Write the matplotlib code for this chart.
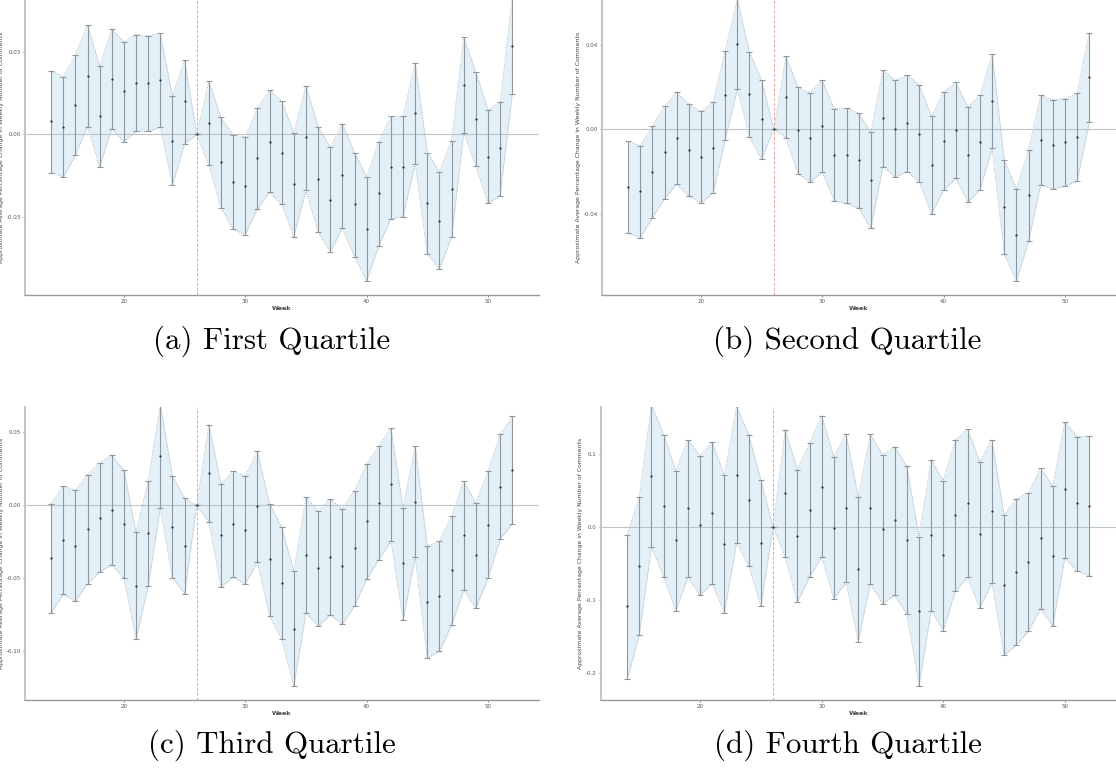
import matplotlib
matplotlib.use("Agg")
import matplotlib.pyplot as plt
import numpy as np

# weeks shown on every panel
weeks = list(range(14, 53))
treat_week = 26

# First quartile
q1_mean = [0.0048, 0.0028, 0.0107, 0.0212, 0.0066, 0.0203, 0.0157, 0.0187, 0.0187, 0.0198,
           -0.0023, 0.0121, 0.0, 0.0040, -0.0102, -0.0173, -0.0187, -0.0087, -0.0026, -0.0066,
           -0.0182, -0.0010, -0.0163, -0.0237, -0.0149, -0.0255, -0.0343, -0.0215, -0.0120, -0.0118,
           0.0077, -0.0249, -0.0314, -0.0198, 0.0181, 0.0056, -0.0081, -0.0051, 0.0322]
q1_lower = [-0.0139, -0.0155, -0.0076, 0.0029, -0.0117, 0.0020, -0.0026, 0.0011, 0.0011, 0.0027,
            -0.0185, -0.0033, 0.0, -0.0112, -0.0267, -0.0345, -0.0365, -0.0271, -0.0211, -0.0255,
            -0.0372, -0.0204, -0.0355, -0.0428, -0.0342, -0.0445, -0.0533, -0.0406, -0.0307, -0.0300,
            -0.0106, -0.0436, -0.0490, -0.0375, 0.0007, -0.0116, -0.0251, -0.0223, 0.0148]
q1_upper = [0.0232, 0.0210, 0.0289, 0.0398, 0.0249, 0.0384, 0.0338, 0.0364, 0.0360, 0.0368,
            0.0140, 0.0271, 0.0, 0.0194, 0.0062, -0.0002, -0.0010, 0.0096, 0.0161, 0.0121,
            0.0007, 0.0178, 0.0029, -0.0046, 0.0039, -0.0066, -0.0154, -0.0026, 0.0066, 0.0066,
            0.0260, -0.0066, -0.0135, -0.0022, 0.0354, 0.0227, 0.0090, 0.0117, 0.0497]

# Second quartile
q2_mean = [-0.0274, -0.0293, -0.0203, -0.0109, -0.0041, -0.0098, -0.0132, -0.0087, 0.0161, 0.0403,
           0.0165, 0.0047, 0.0, 0.0153, -0.0005, -0.0039, 0.0016, -0.0121, -0.0123, -0.0146,
           -0.0239, 0.0052, 0.0002, 0.0028, -0.0022, -0.0169, -0.0057, -0.0003, -0.0120, -0.0061,
           0.0135, -0.0369, -0.0499, -0.0312, -0.0050, -0.0074, -0.0061, -0.0036, 0.0247]
q2_lower = [-0.0491, -0.0512, -0.0420, -0.0328, -0.0260, -0.0315, -0.0348, -0.0302, -0.0052, 0.0192,
            -0.0035, -0.0142, 0.0, -0.0039, -0.0211, -0.0249, -0.0203, -0.0339, -0.0350, -0.0373,
            -0.0468, -0.0176, -0.0227, -0.0200, -0.0250, -0.0400, -0.0288, -0.0232, -0.0345, -0.0285,
            -0.0090, -0.0591, -0.0717, -0.0528, -0.0261, -0.0283, -0.0268, -0.0246, 0.0033]
q2_upper = [-0.0057, -0.0077, 0.0014, 0.0109, 0.0176, 0.0118, 0.0085, 0.0128, 0.0372, 0.0614,
            0.0364, 0.0233, 0.0, 0.0345, 0.0198, 0.0172, 0.0232, 0.0096, 0.0099, 0.0077,
            -0.0013, 0.0279, 0.0232, 0.0257, 0.0208, 0.0063, 0.0175, 0.0222, 0.0106, 0.0162,
            0.0356, -0.0146, -0.0282, -0.0096, 0.0161, 0.0139, 0.0145, 0.0170, 0.0457]

# Third quartile
q3_mean = [-0.0364, -0.0238, -0.0281, -0.0165, -0.0085, -0.0032, -0.0128, -0.0551, -0.0194, 0.0336,
           -0.0149, -0.0277, 0.0, 0.0220, -0.0208, -0.0128, -0.0169, -0.0009, -0.0371, -0.0533,
           -0.0847, -0.0343, -0.0432, -0.0355, -0.0419, -0.0295, -0.0112, 0.0016, 0.0142, -0.0400,
           0.0025, -0.0666, -0.0625, -0.0446, -0.0208, -0.0343, -0.0135, 0.0126, 0.0240]
q3_lower = [-0.0741, -0.0611, -0.0659, -0.0540, -0.0460, -0.0407, -0.0501, -0.0917, -0.0556, -0.0021,
            -0.0501, -0.0609, 0.0, -0.0117, -0.0563, -0.0494, -0.0540, -0.0391, -0.0762, -0.0920,
            -0.1240, -0.0741, -0.0831, -0.0755, -0.0817, -0.0693, -0.0508, -0.0375, -0.0249, -0.0787,
            -0.0357, -0.1050, -0.1002, -0.0824, -0.0583, -0.0707, -0.0501, -0.0233, -0.0130]
q3_upper = [0.0009, 0.0133, 0.0101, 0.0210, 0.0291, 0.0343, 0.0240, -0.0183, 0.0165, 0.0693,
            0.0197, 0.0048, 0.0, 0.0551, 0.0146, 0.0233, 0.0199, 0.0368, 0.0011, -0.0151,
            -0.0453, 0.0053, -0.0039, 0.0041, -0.0025, 0.0098, 0.0284, 0.0405, 0.0529, -0.0018,
            0.0405, -0.0281, -0.0247, -0.0076, 0.0165, 0.0014, 0.0231, 0.0485, 0.0609]

# Fourth quartile
q4_mean = [-0.1092, -0.0532, 0.0707, 0.0285, -0.0184, 0.0257, 0.0023, 0.0193, -0.0234, 0.0721,
           0.0372, -0.0220, 0.0, 0.0464, -0.0124, 0.0234, 0.0555, -0.0009, 0.0262, -0.0583,
           0.0257, -0.0023, 0.0092, -0.0179, -0.1157, -0.0106, -0.0390, 0.0161, 0.0326, -0.0101,
           0.0220, -0.0794, -0.0624, -0.0482, -0.0151, -0.0395, 0.0519, 0.0326, 0.0289]
q4_lower = [-0.2093, -0.1487, -0.0275, -0.0689, -0.1148, -0.0693, -0.0936, -0.0780, -0.1180, -0.0216,
            -0.0537, -0.1088, 0.0, -0.0409, -0.1033, -0.0689, -0.0413, -0.0987, -0.0762, -0.1579,
            -0.0780, -0.1056, -0.0936, -0.1198, -0.2180, -0.1148, -0.1423, -0.0881, -0.0693, -0.1111,
            -0.0771, -0.1763, -0.1625, -0.1432, -0.1129, -0.1359, -0.0427, -0.0606, -0.0670]
q4_upper = [-0.0106, 0.0413, 0.1690, 0.1271, 0.0776, 0.1198, 0.0982, 0.1166, 0.0711, 0.1657,
            0.1271, 0.0647, 0.0, 0.1336, 0.0790, 0.1157, 0.1528, 0.0964, 0.1281, 0.0418,
            0.1281, 0.0996, 0.1106, 0.0840, -0.0133, 0.0923, 0.0638, 0.1203, 0.1345, 0.0900,
            0.1198, 0.0170, 0.0386, 0.0464, 0.0812, 0.0565, 0.1446, 0.1239, 0.1249]

captions = ["(a) First Quartile", "(b) Second Quartile",
            "(c) Third Quartile", "(d) Fourth Quartile"]

FILL = '#e4f0f7'
BAR = '#8c979f'
EDGE = '#9aa6ae'


def draw_panel(ax, mean, lower, upper, ylim, yticks, yticklabels):
    x = np.array(weeks)
    mean = np.array(mean)
    lower = np.array(lower)
    upper = np.array(upper)

    ax.fill_between(x, lower, upper, color=FILL, lw=0, zorder=1)
    ax.plot(x, lower, linestyle=(0, (1, 1.5)), color=EDGE, lw=0.6, zorder=2)
    ax.plot(x, upper, linestyle=(0, (1, 1.5)), color=EDGE, lw=0.6, zorder=2)
    ax.axhline(0, color='#bcc3c9', lw=0.8, zorder=2)
    ax.axvline(treat_week, color='#f29a9a', lw=0.7, linestyle=(0, (3, 2)), zorder=2)
    ax.errorbar(x, mean, yerr=[mean - lower, upper - mean], fmt='none',
                ecolor=BAR, elinewidth=0.8, capsize=2.3, capthick=0.8, zorder=3)
    ax.plot(x, mean, 'o', color='#3a3f44', markersize=0.7, zorder=4)

    ax.set_xlim(11.85, 54.2)
    ax.set_ylim(*ylim)
    ax.set_xticks([20, 30, 40, 50])
    ax.set_yticks(yticks)
    ax.set_yticklabels(yticklabels)
    ax.tick_params(labelsize=4, colors='#555555', length=1.5, width=0.5, pad=1.5)
    for side in ['top', 'right']:
        ax.spines[side].set_visible(False)
    ax.spines['left'].set_color('#c4c4c4')
    ax.spines['left'].set_linewidth(1.4)
    ax.spines['bottom'].set_color('#9a9a9a')
    ax.spines['bottom'].set_linewidth(1.0)
    ax.set_xlabel("Week", fontsize=4.6, color='#444444', labelpad=1, fontweight='bold')
    ax.set_ylabel("Approximate Average Percentage Change in Weekly Number of Comments",
                  fontsize=4.4, color='#444444', labelpad=2)
    ax.set_facecolor('white')


W, H = 1116, 768
fig = plt.figure(figsize=(W / 100, H / 100), dpi=100)

boxes = [(25, 0, 539, 295), (602, 0, 1116, 295),
         (25, 407, 539, 700), (601, 407, 1116, 700)]
axes = []
for (x0, y0, x1, y1) in boxes:
    axes.append(fig.add_axes([x0 / W, 1 - y1 / H, (x1 - x0) / W, (y1 - y0) / H]))

draw_panel(axes[0], q1_mean, q1_lower, q1_upper, (-0.0585, 0.049),
           [-0.03, 0.0, 0.03], ["-0.03", "0.00", "0.03"])
draw_panel(axes[1], q2_mean, q2_lower, q2_upper, (-0.0783, 0.0611),
           [-0.04, 0.0, 0.04], ["-0.04", "0.00", "0.04"])
draw_panel(axes[2], q3_mean, q3_lower, q3_upper, (-0.1336, 0.0673),
           [-0.10, -0.05, 0.0, 0.05], ["-0.10", "-0.05", "0.00", "0.05"])
draw_panel(axes[3], q4_mean, q4_lower, q4_upper, (-0.2378, 0.165),
           [-0.2, -0.1, 0.0, 0.1], ["-0.2", "-0.1", "0.0", "0.1"])

# sub-figure captions
cap_pos = [(272, 341), (847, 341), (272, 745), (848, 745)]
for text, (cx, cy) in zip(captions, cap_pos):
    fig.text(cx / W, 1 - cy / H, text, ha='center', va='center',
             fontsize=22.3, family=['cmr10', 'DejaVu Serif'], color='black')

fig.savefig("out.png", dpi=100)
